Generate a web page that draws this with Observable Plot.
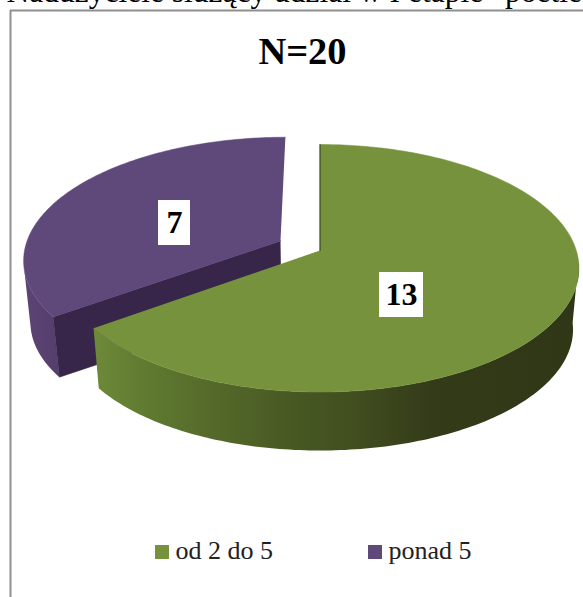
<!DOCTYPE html>
<html>
<head>
<meta charset="utf-8">
<script src="https://cdn.jsdelivr.net/npm/d3@7"></script>
<script src="https://cdn.jsdelivr.net/npm/@observablehq/plot@0.6"></script>
<style>html,body{margin:0;padding:0;background:#fff;overflow:hidden}</style>
</head>
<body>
<div id="chart"></div>
<script>
// Data
const categories = ["od 2 do 5", "ponad 5"];
const values = [13, 7];
const total = "N=20";
const clippedHeading = "Nadużyciele służący udział w I etapie “poetles";

// Styling / layout, separate from the data
const W = 583, H = 597;
const colors = ["#76923C", "#5F497A"];
const innerFace = "#37264A";
const sliverColor = "#2f3717";
const explode = [0, 0.175];
const outward = [1, -1];
const labelAt = [[401, 294.5], [174, 222.5]];
const labelHalf = [[22, 22.5], [16, 22.5]];
const legendSwatchX = [155, 368];
const gradientStops = [
  {id: "wall0", x0: 96, x1: 575, stops: [[96, "#6c8838"], [150, "#5f7a30"], [200, "#576c2b"], [300, "#465722"], [350, "#424f20"], [430, "#333b18"], [575, "#2f3717"]]},
  {id: "wall1", x0: 20, x1: 60, stops: [[20, "#5c4475"], [60, "#553e6c"]]}
];

// 3D pie projection: unit disk to screen with perspective
const ox = 319.5, oy = 250, bx = 256.3, ay = 121.2, persp = 0.1435, depthScale = 0.977, depthY = 61.75;
function project(theta, r, e, bisector, low) {
  const u = r * Math.sin(theta) + e * Math.sin(bisector);
  const v = r * Math.cos(theta) + e * Math.cos(bisector);
  const w = 1 + persp * v, s = low ? depthScale : 1;
  return {x: ox + s * bx * u / w, y: oy + (low ? depthY : 0) - s * ay * v / w};
}

const arcs = d3.pie().sort(null)(values);
const tess = (a, b) => { const n = Math.ceil((b - a) * 180 / Math.PI); return d3.range(n + 1).map(i => a + (b - a) * i / n); };

// gradient definitions for the side walls
const defsMark = () => {
  const ns = "http://www.w3.org/2000/svg";
  const defs = document.createElementNS(ns, "defs");
  gradientStops.forEach(g => {
    const lg = document.createElementNS(ns, "linearGradient");
    lg.setAttribute("id", g.id);
    lg.setAttribute("gradientUnits", "userSpaceOnUse");
    lg.setAttribute("x1", g.x0); lg.setAttribute("x2", g.x1);
    lg.setAttribute("y1", 0); lg.setAttribute("y2", 0);
    g.stops.forEach(([x, c]) => {
      const s = document.createElementNS(ns, "stop");
      s.setAttribute("offset", (x - g.x0) / (g.x1 - g.x0));
      s.setAttribute("stop-color", c);
      lg.appendChild(s);
    });
    defs.appendChild(lg);
  });
  return defs;
};

const marks = [defsMark];
// draw purple first (it is behind), then green
[1, 0].forEach(i => {
  const {startAngle: a0, endAngle: a1} = arcs[i];
  const mid = (a0 + a1) / 2, e = explode[i];
  const P = (t, r, low) => project(t, r, e, mid, low);
  const angles = tess(a0, a1);

  // outer wall: the rim part that faces the viewer, up to the silhouette tangent
  const score = t => {
    const p = P(t, 1, false), q = P(t, 1, true);
    return outward[i] * ((q.y - p.y) * p.x - (q.x - p.x) * p.y);
  };
  const tangent = d3.greatest(angles, score);
  const front = angles.filter(t => i === 0 ? t >= tangent : t <= tangent);
  const wall = [...front.map(t => P(t, 1, false)), ...front.slice().reverse().map(t => P(t, 1, true))];
  marks.push(Plot.line(wall, {x: "x", y: "y", fill: `url(#wall${i})`, stroke: "none"}));

  // inner cut face of the exploded slice
  if (i === 1) {
    const face = [P(a0, 0, false), P(a0, 1, false), P(a0, 1, true), P(a0, 0, true)];
    marks.push(Plot.line(face, {x: "x", y: "y", fill: innerFace, stroke: innerFace, strokeWidth: 0.5}));
  }

  // top surface
  const top = [P(a0, 0, false), ...angles.map(t => P(t, 1, false))];
  marks.push(Plot.line(top, {x: "x", y: "y", fill: colors[i], stroke: colors[i], strokeWidth: 0.5}));

  if (i === 0) {
    marks.push(Plot.line([P(a0, 0, false), P(a0, 1, false)], {x: "x", y: "y", stroke: sliverColor, strokeWidth: 1}));
  }
});

// value labels
const labels = values.map((v, i) => ({v, x: labelAt[i][0], y: labelAt[i][1], hx: labelHalf[i][0], hy: labelHalf[i][1]}));
marks.push(Plot.rect(labels, {x1: d => d.x - d.hx, x2: d => d.x + d.hx, y1: d => d.y - d.hy, y2: d => d.y + d.hy, fill: "white"}));
marks.push(Plot.text(labels, {x: "x", y: d => d.y, text: d => String(d.v), fontFamily: "Liberation Serif", fontWeight: "bold", fontSize: 32, fill: "black", textAnchor: "middle", lineAnchor: "middle"}));

// frame
marks.push(Plot.ruleX([10], {y1: 10, y2: H, stroke: "#8f8f8f", strokeWidth: 2}));
marks.push(Plot.ruleY([10], {x1: 10, x2: W, stroke: "#8f8f8f", strokeWidth: 2}));

// heading cut off by the top edge
marks.push(Plot.text([clippedHeading], {x: 6, y: 1, text: d => d, textAnchor: "start", lineAnchor: "bottom", fontFamily: "Liberation Serif", fontSize: 31.5, fill: "black"}));

// chart title
marks.push(Plot.text([total], {x: 302, y: 51, text: d => d, fontFamily: "Liberation Serif", fontWeight: "bold", fontSize: 38.5, fill: "black", lineAnchor: "middle"}));

// legend
const legend = categories.map((c, i) => ({c, x: legendSwatchX[i], col: colors[i]}));
marks.push(Plot.rect(legend, {x1: "x", x2: d => d.x + 14, y1: 545, y2: 559, fill: "col"}));
marks.push(Plot.text(legend, {x: d => d.x + 20, y: 550, text: "c", textAnchor: "start", lineAnchor: "middle", fontFamily: "Liberation Serif", fontSize: 26, fill: "#222"}));

const chart = Plot.plot({
  width: W, height: H, margin: 0,
  x: {domain: [0, W], range: [0, W], axis: null},
  y: {domain: [0, H], range: [0, H], axis: null},
  marks
});
document.getElementById("chart").appendChild(chart);
</script>
</body>
</html>
